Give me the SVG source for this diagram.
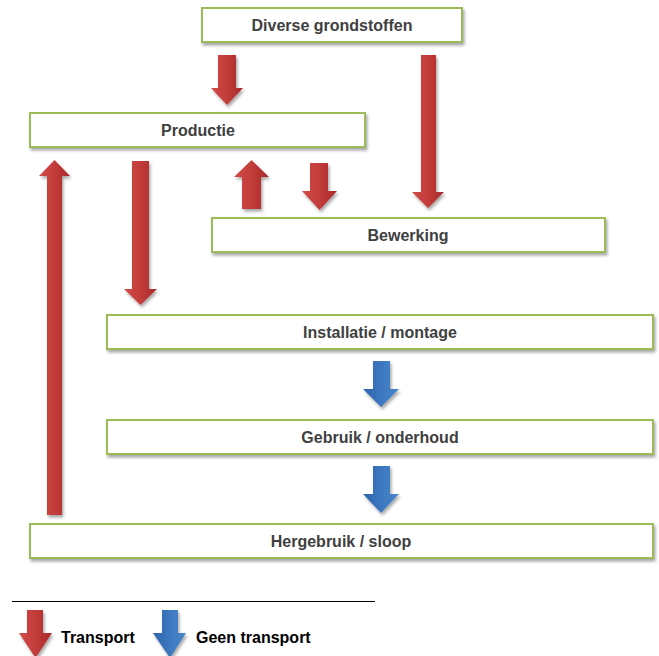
<svg xmlns="http://www.w3.org/2000/svg" width="659" height="656" viewBox="0 0 659 656">
<defs>
<filter id="sh" x="-10%" y="-20%" width="130%" height="160%">
<feDropShadow dx="1.5" dy="2.5" stdDeviation="1.5" flood-color="#000" flood-opacity="0.35"/>
</filter>
<linearGradient id="red" x1="0" y1="0" x2="1" y2="0">
<stop offset="0" stop-color="#d24b48"/>
<stop offset="0.5" stop-color="#c23c3a"/>
<stop offset="1" stop-color="#a8292a"/>
</linearGradient>
<linearGradient id="blue" x1="0" y1="0" x2="1" y2="0">
<stop offset="0" stop-color="#3064ad"/>
<stop offset="0.6" stop-color="#3f7bc2"/>
<stop offset="1" stop-color="#4a86c9"/>
</linearGradient>
</defs>
<style>
.box{fill:#fff;stroke:#9bbb59;stroke-width:2;filter:url(#sh)}
.lbl{font-family:"Liberation Sans",Arial,sans-serif;font-weight:bold;font-size:16px;fill:#404040;text-anchor:middle}
.leg{font-family:"Liberation Sans",Arial,sans-serif;font-weight:bold;font-size:16px;fill:#000}
.r{fill:url(#red);filter:url(#sh)}
.b{fill:url(#blue);filter:url(#sh)}
</style>
<rect width="659" height="656" fill="#fff"/>
<g id="connectors">
<polygon class="r" points="218,55 236,55 236,88 243,88 227,105 211,88 218,88"/>
<polygon class="r" points="421,55 436,55 436,192 444,192 428,208 412,192 421,192"/>
<polygon class="r" points="47,515 62,515 62,176 70,176 54.5,160 39,176 47,176"/>
<polygon class="r" points="132,161 149,161 149,289 157,289 140.5,305 124,289 132,289"/>
<polygon class="r" points="242,209 261,209 261,177 269,177 251.5,160 234,177 242,177"/>
<polygon class="r" points="310,163 328,163 328,191 337,191 319.5,210 302,191 310,191"/>
<polygon class="b" points="373,361 390,361 390,389 399,389 381,407 363,389 373,389"/>
<polygon class="b" points="373,466 390,466 390,494 399,494 381,513 363,494 373,494"/>
</g>
<g id="n-diverse"><rect class="box" x="202" y="8" width="260" height="34"/><text class="lbl" x="332" y="31">Diverse grondstoffen</text></g>
<g id="n-productie"><rect class="box" x="30" y="113" width="335" height="34"/><text class="lbl" x="198" y="136">Productie</text></g>
<g id="n-bewerking"><rect class="box" x="212" y="218" width="393" height="34"/><text class="lbl" x="408" y="241">Bewerking</text></g>
<g id="n-installatie"><rect class="box" x="107" y="315" width="546" height="34"/><text class="lbl" x="380" y="338">Installatie / montage</text></g>
<g id="n-gebruik"><rect class="box" x="107" y="420" width="546" height="34"/><text class="lbl" x="380" y="443">Gebruik / onderhoud</text></g>
<g id="n-hergebruik"><rect class="box" x="30" y="524" width="623" height="34"/><text class="lbl" x="341" y="547">Hergebruik / sloop</text></g>
<g id="legend">
<line x1="12" y1="601.5" x2="375" y2="601.5" stroke="#000" stroke-width="1.2"/>
<polygon class="r" points="27,610 43,610 43,633 52,633 35.5,658 19,633 27,633"/>
<text class="leg" x="61" y="643">Transport</text>
<polygon class="b" points="162,610 178,610 178,633 186,633 170,658 153,633 162,633"/>
<text class="leg" x="196" y="643">Geen transport</text>
</g>
</svg>
